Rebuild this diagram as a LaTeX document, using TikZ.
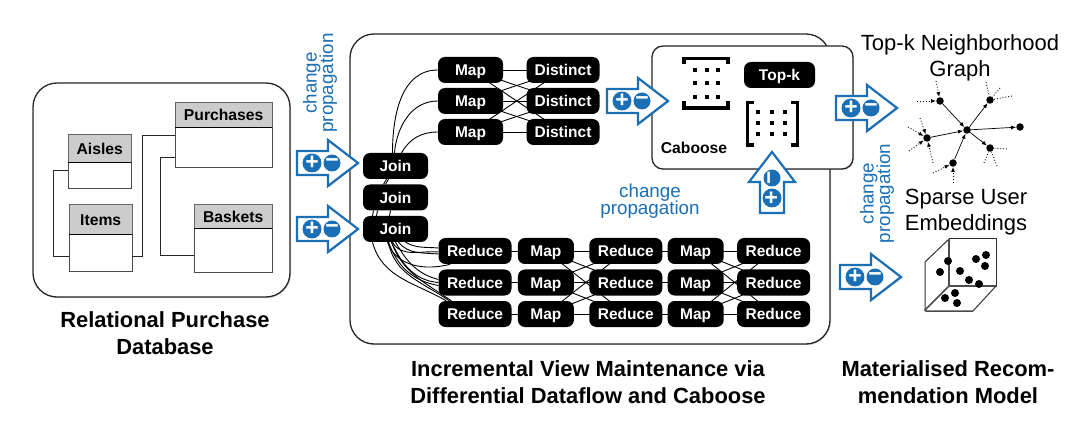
\documentclass[tikz,border=0pt]{standalone}
\usepackage{fontspec}
\setmainfont{Liberation Sans}
\usetikzlibrary{arrows.meta, positioning, shadows}
\definecolor{flowblue}{HTML}{1B6FB5}
\pgfdeclarelayer{background}
\pgfdeclarelayer{edges}
\pgfsetlayers{background,edges,main}
\tikzset{
softshadow/.style = {drop shadow={shadow xshift=1pt,shadow yshift=-1pt,opacity=.35}},
sign/.style = {circle, fill=flowblue, text=white, inner sep=0pt, minimum size=17pt, transform shape,
               font=\fontsize{23}{23}\selectfont\bfseries},
pics/delta/.style = {code={
    \draw[fill=white, draw=flowblue, line width=2.2pt, softshadow]
        (0,-12) -- (31,-12) -- (31,-23) -- (61,0) -- (31,23) -- (31,12) -- (0,12) -- cycle;
    \node (-plus)  [sign] at (15,0) {+};
    \node (-minus) [sign] at (35,0) {−};
    }},
}

\begin{document}
\begin{tikzpicture}[
    x=1pt, y=-1pt,
    node distance=5pt and 6pt,
roundbox/.style = {draw=black!85, fill=white, line width=1.3pt, rounded corners=24pt, softshadow, inner sep=0pt},
thead/.style = {draw=black!60, fill=black!20, inner sep=0pt, anchor=north west, text height=12.5pt, text depth=0pt,
                font=\fontsize{15.7}{16}\selectfont\bfseries},
tbody/.style = {draw=black!70, fill=white, inner sep=0pt},
opnode/.style = {fill=black, text=white, rounded corners=7pt, inner sep=0pt, minimum height=26pt,
                 text height=11.5pt, text depth=0pt,
                 font=\fontsize{15.5}{16}\selectfont\bfseries},
wide/.style = {minimum width=73pt},
narrow/.style = {minimum width=56pt},
mapw/.style = {minimum width=65pt},
tablelink/.style = {draw=black!85, line width=1pt},
flowlink/.style = {draw=black, line width=.9pt},
graphlink/.style = {line width=.7pt, -{Latex[length=5pt,width=4pt]}},
dotlink/.style = {line width=.9pt, dotted},
gnode/.style = {circle, fill=black, inner sep=0pt, minimum size=7.5pt},
hint/.style = {text=flowblue, align=center, inner sep=0pt, font=\fontsize{18.8}{17}\selectfont},
title/.style = {align=center, inner sep=0pt, font=\fontsize{22}{26}\selectfont},
btitle/.style = {title, font=\fontsize{21.9}{27}\selectfont\bfseries},
bracket/.style = {line width=3.5pt, miter limit=2},
                        ]
\useasboundingbox (0,0) rectangle (1089,438);
%
\node (db) [roundbox, minimum width=257pt, minimum height=214pt] at (161.5,190) {};
\foreach \n/\lab/\x/\y/\w/\h/\b in {aisles/Aisles/68/134/63/28/26,
                                     purchases/Purchases/175/102/97/25/40,
                                     items/Items/69/204/63/30/37,
                                     baskets/Baskets/194/204/78/24/44}{
    \node (\n) [thead, minimum width=\w pt, minimum height=\h pt] at (\x,\y) {\lab};
    \node (\n b) [tbody, minimum width=\w pt, minimum height=\b pt, below=0pt of \n] {};
    \draw[line width=1.5pt] (\n.south west) -- (\n.south east);
}
\draw[tablelink] ([yshift=5pt]aislesb.west) -- ++(-15,0) |- ([yshift=-3pt]itemsb.west);
\draw[tablelink] ([yshift=-3pt]itemsb.east) -- ++(10,0) |- ([yshift=12pt]purchasesb.west);
\draw[tablelink] ([yshift=-5pt]basketsb.west) -- ++(-33.5,0) |- ([yshift=-10pt]purchasesb.west);
%
\begin{pgfonlayer}{background}
\node (flow) [roundbox, minimum width=480pt, minimum height=310pt] at (590,189) {};
\end{pgfonlayer}
\node (caboose) [roundbox, rounded corners=11pt, minimum width=201pt, minimum height=123pt] at (752.5,107.5) {};
%
\foreach \i/\y in {1/70,2/101,3/132}{
    \node (map\i) [opnode, mapw] at (470.5,\y) {Map};
    \node (dist\i) [opnode, minimum width=73pt] at (563,\y) {Distinct};
}
\foreach \i/\y in {1/166,2/197.5,3/229}
    \node (join\i) [opnode, mapw] at (395.5,\y) {Join};
\foreach \i/\y in {1/251,2/282.5,3/314}{
    \node (ra\i) [opnode, wide] at (475,\y) {Reduce};
    \node (ma\i) [opnode, narrow, right=6pt of ra\i] {Map};
    \node (rb\i) [opnode, wide, right=15pt of ma\i] {Reduce};
    \node (mb\i) [opnode, narrow, right=5pt of rb\i] {Map};
    \node (rc\i) [opnode, wide, right=13pt of mb\i] {Reduce};
}
\node (topk) [opnode, minimum width=71pt] at (779.5,75) {Top-k};
\node (cablabel) [inner sep=0pt, font=\fontsize{15.7}{16}\selectfont\bfseries] at (694,148) {Caboose};
%
\begin{pgfonlayer}{edges}
\foreach \i in {1,2,3}{
    \foreach \j in {1,2,3}{
        \draw[flowlink] (map\i.center) -- (dist\j.center);
        \draw[flowlink] (ma\i.center) -- (rb\j.center);
        \draw[flowlink] (mb\i.center) -- (rc\j.center);
    }
    \draw[flowlink] (ra\i.center) -- (ma\i.center);
    \draw[flowlink] (rb\i.center) -- (mb\i.center);
}
\draw[flowlink] ([xshift=-3pt]join1.north) to[out=90,in=180] (map1.west);
\draw[flowlink] ([xshift=-1pt]join1.north) to[out=85,in=180] (map2.west);
\draw[flowlink] ([xshift=6pt]join1.north) to[out=60,in=180] (map3.west);
\draw[flowlink] ([xshift=-9pt]join1.south) -- ([xshift=-12pt]join2.north);
\draw[flowlink] ([xshift=-7pt]join1.south) -- ([xshift=-10pt]join2.north);
\draw[flowlink] ([xshift=-22pt]join2.south) -- ([xshift=-23pt]join3.north);
\draw[flowlink] ([xshift=-18pt]join2.south) -- ([xshift=-19pt]join3.north);
\draw[flowlink] ([xshift=-5pt]join2.south) -- ([xshift=-6pt]join3.north);
%
\draw[flowlink] ([xshift=-23pt]join3.south) to[out=-75,in=150] ([xshift=8pt]ra3.north west);
\draw[flowlink] ([xshift=-7pt]join3.south) to[out=-80,in=145] ([xshift=11pt]ra3.north west);
\draw[flowlink] ([xshift=-4pt]join3.south) to[out=-70,in=145] ([xshift=13pt]ra3.north west);
\draw[flowlink] ([xshift=-7pt]join3.south) to[out=-70,in=170] ([yshift=-3pt]ra2.west);
\draw[flowlink] ([xshift=-4pt]join3.south) to[out=-65,in=175] (ra2.west);
\draw[flowlink] (join3.south) to[out=-60,in=165] ([yshift=3pt]ra2.west);
\draw[flowlink] ([xshift=-3pt]join3.south) to[out=-60,in=175] ([yshift=-1pt]ra1.west);
\draw[flowlink] ([xshift=3pt]join3.south) to[out=-50,in=175] ([yshift=-3pt]ra1.west);
\draw[flowlink] ([xshift=10pt]join3.south) to[out=-30,in=175] ([yshift=3pt]ra1.west);
\draw[flowlink] ([xshift=-8pt]join3.south) to[out=-70,in=195] ([xshift=12pt]ra1.south west);
\end{pgfonlayer}
%
\draw[bracket] (684,64.5) -- (684,58.5) -- (728,58.5) -- (728,64.5);
\draw[bracket] (684,101.5) -- (684,108) -- (728,108) -- (728,101.5);
\foreach \x in {695,707,718}
    \foreach \y in {70,83,97}
        \fill (\x-2.2,\y-2.2) rectangle ++(4.4,4.4);
\draw[bracket] (754,102.5) -- (747.5,102.5) -- (747.5,145) -- (754,145);
\draw[bracket] (791,102.5) -- (797.5,102.5) -- (797.5,145) -- (791,145);
\foreach \x in {758,772,785}
    \foreach \y in {112,123,134}
        \fill (\x-2.2,\y-2.2) rectangle ++(4.4,4.4);
%
\pic (da) at (297,163) {delta};
\pic (db) at (297,229) {delta};
\pic (dc) at (607,101) {delta};
\pic (dd) at (836,108) {delta};
\pic (de) at (840,277) {delta};
\pic[rotate=90] (df) at (772,213) {delta};
%
\node (hint1) [hint, rotate=90] at (320,83) {change\\[-2pt]propagation};
\node (hint2) [hint] at (650,201) {change\\[-2pt]propagation};
\node (hint3) [hint, rotate=90] at (877,193.5) {change\\[-2pt]propagation};
%
\node (gc) [gnode] at (967,130) {};
\node (gn1) [gnode] at (940,101) {};
\node (gn2) [gnode] at (990,100) {};
\node (gn3) [gnode] at (1020,127) {};
\node (gn4) [gnode] at (990,148) {};
\node (gn5) [gnode] at (953,163) {};
\node (gn6) [gnode] at (927,138) {};
\draw[graphlink] (gn1) -- (gc);
\draw[graphlink] (gc) -- (gn2);
\draw[graphlink] (gc) -- (gn3);
\draw[graphlink] (gc) -- (gn4);
\draw[graphlink] (gn5) -- (gc);
\draw[graphlink] (gn6) -- (gc);
\foreach \i/\x/\y/\t in {1/936/81/gn1, 2/917/101/gn1, 3/933/173/gn5, 4/953/183/gn5,
                         5/920/118/gn6, 6/908/127/gn6, 7/909/151/gn6, 8/933/163/gn6}{
    \coordinate (free\i) at (\x,\y);
    \draw[dotlink, -{Latex[length=5pt,width=4pt]}] (free\i) -- (\t);
}
\foreach \i/\x/\y/\t in {1/986/82/gn2, 2/1000/88/gn2, 3/1012/96/gn2,
                         4/1007/149/gn4, 5/997/166/gn4, 6/984/163/gn4}{
    \coordinate (loose\i) at (\x,\y);
    \draw[dotlink] (loose\i) -- (\t);
}
%
\draw[line width=1pt, black!80] (949,239) rectangle (996,286);
\draw[line width=1pt, black!80] (949,239) -- (925,262) -- (925,310);
\draw[line width=1pt, black!80] (996,286) -- (973,311);
\draw[line width=1.5pt, black!70] (949,239) -- (949,286) -- (996,286);
\draw[line width=1.5pt, black!70] (949,286) -- (925,310) -- (926,311) -- (973,311);
\foreach \x/\y in {948/261, 940/272, 960/271, 976/259, 986/255, 985/266,
                   969/280, 979/284, 955/293, 945/298, 957/303}
    \fill (\x,\y) circle (4);
%
\node (dbtitle) [btitle] at (165,333) {Relational Purchase\\Database};
\node (flowtitle) [btitle] at (588,382.5) {Incremental View Maintenance via\\Differential Dataflow and Caboose};
\node (modeltitle) [btitle] at (948,382.5) {Materialised Recom-\\mendation Model};
\node (graphtitle) [title] at (960,58) {Top-k Neighborhood\\Graph};
\node (embedtitle) [title] at (966,212) {Sparse User\\Embeddings};
\end{tikzpicture}
\end{document}
